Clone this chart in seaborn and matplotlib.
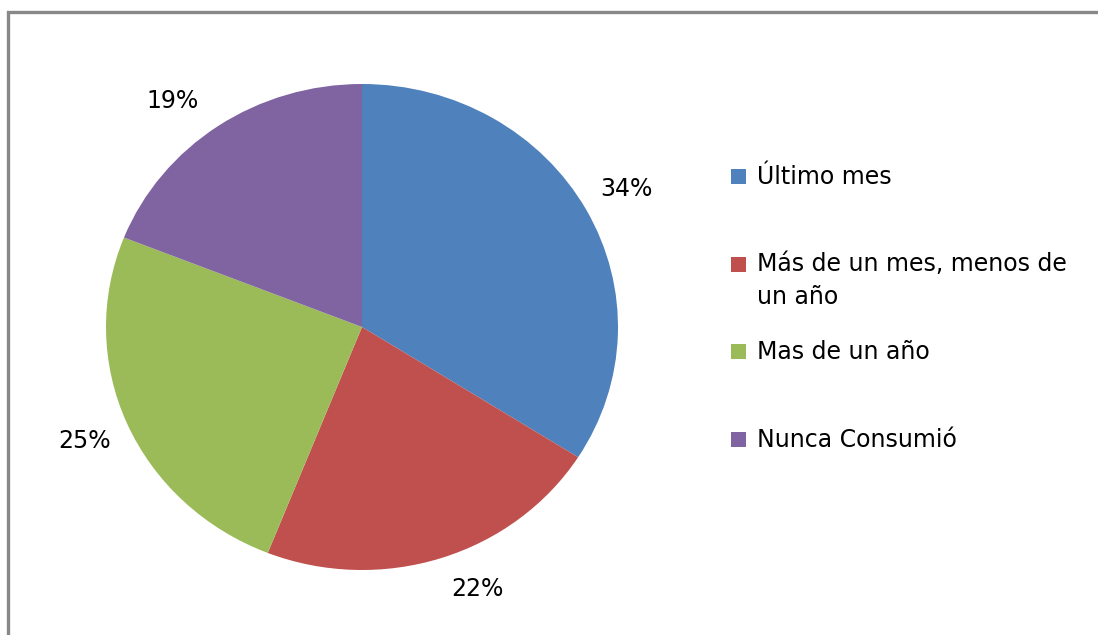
import matplotlib
matplotlib.use("Agg")
import matplotlib.pyplot as plt
from matplotlib.patches import Rectangle
import seaborn as sns

categorias = ["Último mes", "Más de un mes, menos de\nun año", "Mas de un año", "Nunca Consumió"]
porcentajes = [34, 22, 25, 19]
colores = ["#4F81BD", "#C0504D", "#9BBB59", "#8064A2"]

sns.set_style("white")
plt.rcParams['font.family'] = ['DejaVu Sans']

W, H = 1098, 635
fig = plt.figure(figsize=(W / 100, H / 100), dpi=100)

# marco gris (solo se ven los bordes superior e izquierdo)
fig.patches.append(Rectangle((8 / W, -0.05), 1.2, (H - 12) / H + 0.05,
                             transform=fig.transFigure, fill=False,
                             edgecolor="#888888", linewidth=2.4))

ax = fig.add_axes([106 / W, (H - 570) / H, 512 / W, 486 / H])
wedges, texts, autotexts = ax.pie(porcentajes, colors=colores, startangle=90,
                                  counterclock=False, autopct="%d%%",
                                  pctdistance=1.18,
                                  wedgeprops=dict(linewidth=0),
                                  textprops=dict(fontsize=17, color="black"))
ax.set_aspect("auto")
ax.set_xlim(-1, 1)
ax.set_ylim(-1, 1)

# etiquetas "mejor ajuste" como en Excel
autotexts[1].set_position((0.45, -1.08))
autotexts[3].set_position((-0.74, 0.93))

# leyenda
ys = [177, 265, 352, 440]
for y, lab, c in zip(ys, categorias, colores):
    fig.patches.append(Rectangle((731 / W, 1 - (y + 7) / H), 15 / W, 15 / H,
                                 transform=fig.transFigure, facecolor=c,
                                 edgecolor="none"))
    fig.text(757 / W, 1 - y / H, lab, fontsize=17, color="black",
             va="top" if "\n" in lab else "center", ha="left", linespacing=1.45)

# ajuste vertical de la etiqueta de dos lineas
fig.texts[1].set_position((757 / W, 1 - (265 - 13) / H))

fig.savefig("out.png", dpi=100)
